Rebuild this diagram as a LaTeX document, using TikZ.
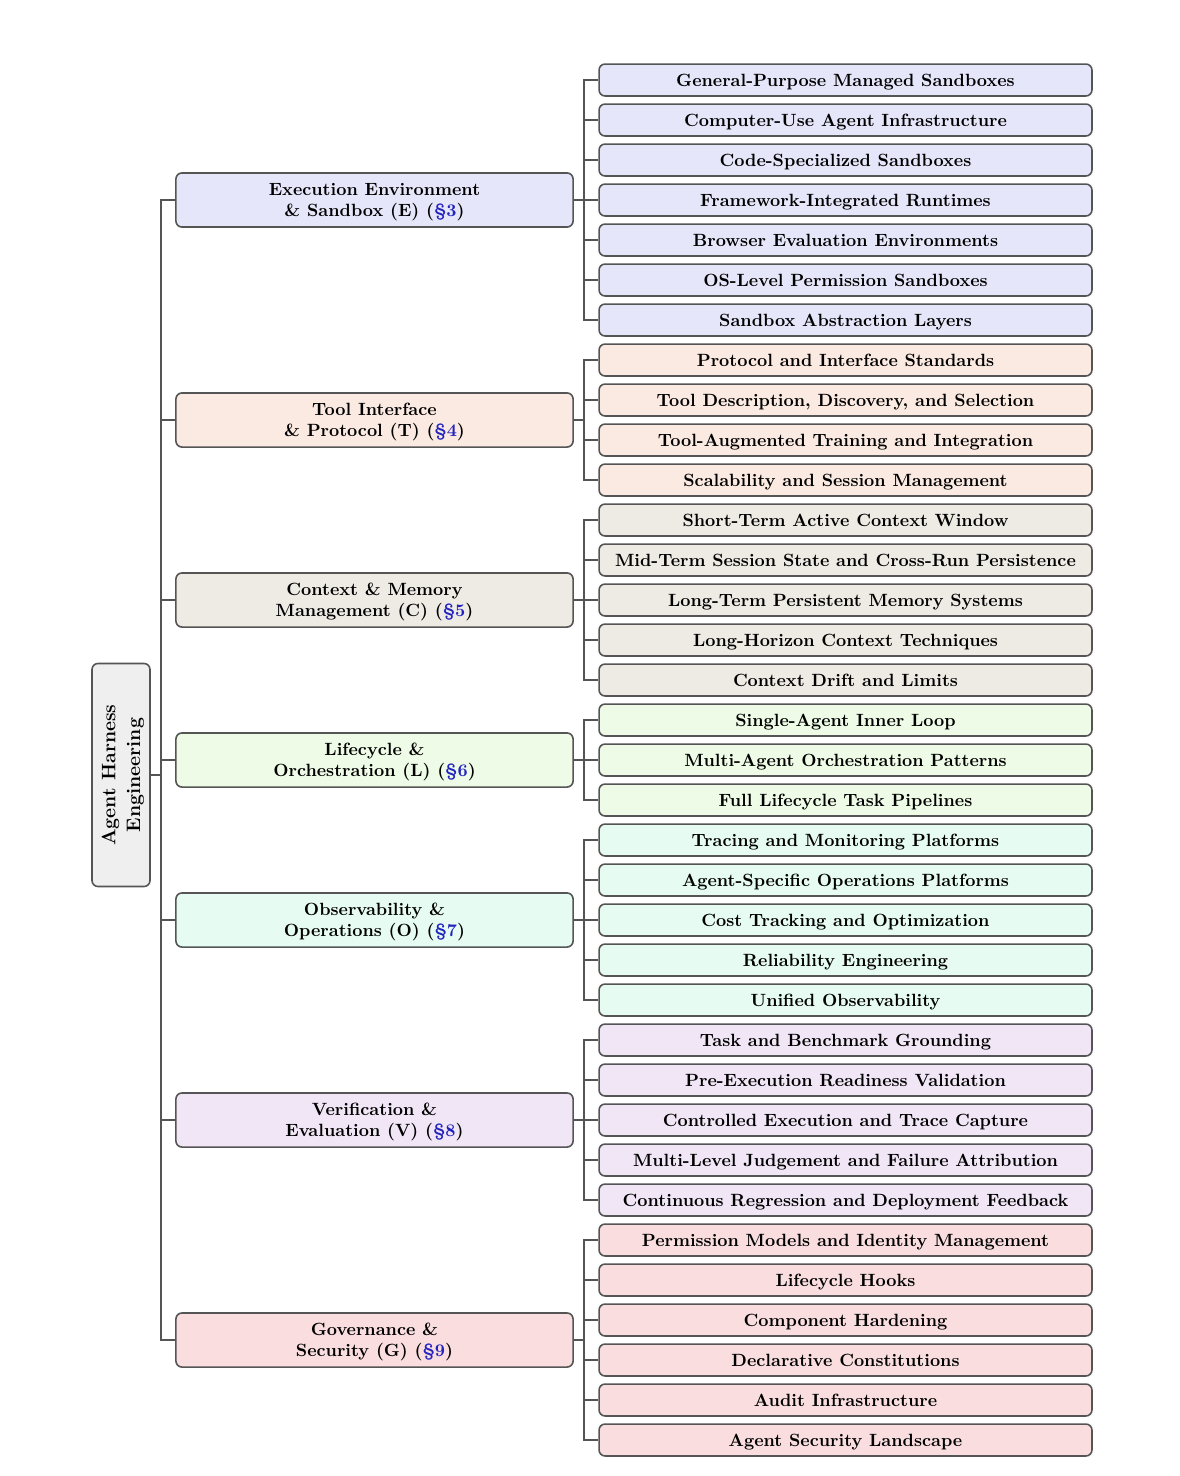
\documentclass[tikz,border=0pt]{standalone}
\definecolor{linec}{RGB}{85,85,85}
\definecolor{refblue}{RGB}{35,35,190}
\definecolor{cR}{RGB}{239,239,239}
\definecolor{cE}{RGB}{230,230,250}
\definecolor{cT}{RGB}{251,234,226}
\definecolor{cC}{RGB}{238,234,228}
\definecolor{cL}{RGB}{238,251,230}
\definecolor{cO}{RGB}{230,252,243}
\definecolor{cV}{RGB}{240,230,245}
\definecolor{cG}{RGB}{249,221,223}
\newcommand\secref[1]{\textcolor{refblue}{\S#1}}
\begin{document}
\begin{tikzpicture}[x=0.564pt,y=-0.564pt,
  conn/.style={draw=linec, line width=1pt},
  basebox/.style={draw=linec, line width=0.9pt, rounded corners=3.4pt, inner sep=0pt, font=\bfseries, align=center},
  leafbox/.style={basebox, minimum width=278pt, minimum height=18pt, text height=7pt, text depth=0pt},
  catbox/.style={basebox, minimum width=224pt, minimum height=30.5pt, text depth=0pt},
  rootbox/.style={basebox, font=\bfseries\fontsize{11}{14}\selectfont, minimum width=125.8pt, minimum height=32.7pt, rotate=90, fill=cR, text depth=0pt}]
\useasboundingbox (0,0) rectangle (1180,1476);

% root
\node[rootbox] (root) at (121,775) {Agent Harness\\Engineering};

% categories
\node[catbox, fill=cE] (cE) at (374.5,200) {Execution Environment\\\& Sandbox (E) (\secref{3})};
\node[catbox, fill=cT] (cT) at (374.5,420) {Tool Interface\\\& Protocol (T) (\secref{4})};
\node[catbox, fill=cC] (cC) at (374.5,600) {Context \& Memory\\Management (C) (\secref{5})};
\node[catbox, fill=cL] (cL) at (374.5,760) {Lifecycle \&\\Orchestration (L) (\secref{6})};
\node[catbox, fill=cO] (cO) at (374.5,920) {Observability \&\\Operations (O) (\secref{7})};
\node[catbox, fill=cV] (cV) at (374.5,1120) {Verification \&\\Evaluation (V) (\secref{8})};
\node[catbox, fill=cG] (cG) at (374.5,1340) {Governance \&\\Security (G) (\secref{9})};

% leaves
\node[leafbox, fill=cE] (l0) at (845.5,80) {General-Purpose Managed Sandboxes};
\node[leafbox, fill=cE] (l1) at (845.5,120) {Computer-Use Agent Infrastructure};
\node[leafbox, fill=cE] (l2) at (845.5,160) {Code-Specialized Sandboxes};
\node[leafbox, fill=cE] (l3) at (845.5,200) {Framework-Integrated Runtimes};
\node[leafbox, fill=cE] (l4) at (845.5,240) {Browser Evaluation Environments};
\node[leafbox, fill=cE] (l5) at (845.5,280) {OS-Level Permission Sandboxes};
\node[leafbox, fill=cE] (l6) at (845.5,320) {Sandbox Abstraction Layers};
\node[leafbox, fill=cT] (l7) at (845.5,360) {Protocol and Interface Standards};
\node[leafbox, fill=cT] (l8) at (845.5,400) {Tool Description, Discovery, and Selection};
\node[leafbox, fill=cT] (l9) at (845.5,440) {Tool-Augmented Training and Integration};
\node[leafbox, fill=cT] (l10) at (845.5,480) {Scalability and Session Management};
\node[leafbox, fill=cC] (l11) at (845.5,520) {Short-Term Active Context Window};
\node[leafbox, fill=cC] (l12) at (845.5,560) {Mid-Term Session State and Cross-Run Persistence};
\node[leafbox, fill=cC] (l13) at (845.5,600) {Long-Term Persistent Memory Systems};
\node[leafbox, fill=cC] (l14) at (845.5,640) {Long-Horizon Context Techniques};
\node[leafbox, fill=cC] (l15) at (845.5,680) {Context Drift and Limits};
\node[leafbox, fill=cL] (l16) at (845.5,720) {Single-Agent Inner Loop};
\node[leafbox, fill=cL] (l17) at (845.5,760) {Multi-Agent Orchestration Patterns};
\node[leafbox, fill=cL] (l18) at (845.5,800) {Full Lifecycle Task Pipelines};
\node[leafbox, fill=cO] (l19) at (845.5,840) {Tracing and Monitoring Platforms};
\node[leafbox, fill=cO] (l20) at (845.5,880) {Agent-Specific Operations Platforms};
\node[leafbox, fill=cO] (l21) at (845.5,920) {Cost Tracking and Optimization};
\node[leafbox, fill=cO] (l22) at (845.5,960) {Reliability Engineering};
\node[leafbox, fill=cO] (l23) at (845.5,1000) {Unified Observability};
\node[leafbox, fill=cV] (l24) at (845.5,1040) {Task and Benchmark Grounding};
\node[leafbox, fill=cV] (l25) at (845.5,1080) {Pre-Execution Readiness Validation};
\node[leafbox, fill=cV] (l26) at (845.5,1120) {Controlled Execution and Trace Capture};
\node[leafbox, fill=cV] (l27) at (845.5,1160) {Multi-Level Judgement and Failure Attribution};
\node[leafbox, fill=cV] (l28) at (845.5,1200) {Continuous Regression and Deployment Feedback};
\node[leafbox, fill=cG] (l29) at (845.5,1240) {Permission Models and Identity Management};
\node[leafbox, fill=cG] (l30) at (845.5,1280) {Lifecycle Hooks};
\node[leafbox, fill=cG] (l31) at (845.5,1320) {Component Hardening};
\node[leafbox, fill=cG] (l32) at (845.5,1360) {Declarative Constitutions};
\node[leafbox, fill=cG] (l33) at (845.5,1400) {Audit Infrastructure};
\node[leafbox, fill=cG] (l34) at (845.5,1440) {Agent Security Landscape};

% connectors root -> categories
\foreach \c in {cE,cT,cC,cL,cO,cV,cG}
  \draw[conn] (root.south) -- ++(10,0) |- (\c.west);

% connectors categories -> leaves
\foreach \k in {0,...,6}   \draw[conn] (cE.east) -- ++(10,0) |- (l\k.west);
\foreach \k in {7,...,10}  \draw[conn] (cT.east) -- ++(10,0) |- (l\k.west);
\foreach \k in {11,...,15} \draw[conn] (cC.east) -- ++(10,0) |- (l\k.west);
\foreach \k in {16,...,18} \draw[conn] (cL.east) -- ++(10,0) |- (l\k.west);
\foreach \k in {19,...,23} \draw[conn] (cO.east) -- ++(10,0) |- (l\k.west);
\foreach \k in {24,...,28} \draw[conn] (cV.east) -- ++(10,0) |- (l\k.west);
\foreach \k in {29,...,34} \draw[conn] (cG.east) -- ++(10,0) |- (l\k.west);
\end{tikzpicture}
\end{document}
